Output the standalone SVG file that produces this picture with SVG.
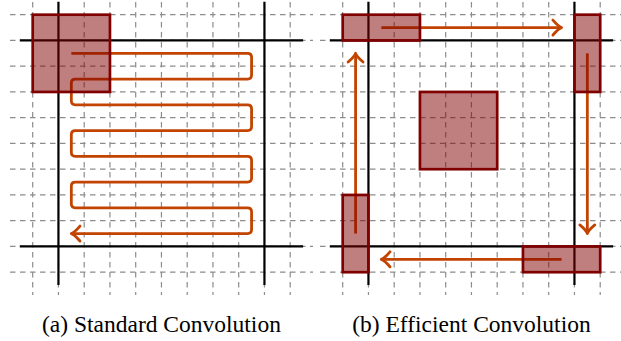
<svg xmlns="http://www.w3.org/2000/svg" width="621" height="341" viewBox="0 0 621 341">
<style>
.dash{stroke:#8c8c8c;stroke-width:1.2;stroke-dasharray:5.5 4.5;fill:none}
.axis{stroke:#000;stroke-width:2.2;fill:none}
.flow{stroke:#c24400;stroke-width:2.8;fill:none;marker-end:url(#ah)}
.box{fill:#800000;fill-opacity:0.5;stroke:#800000;stroke-width:2.7}
text{font-family:'Liberation Serif','DejaVu Serif','Noto Serif',serif;font-size:23.5px;fill:#000;text-anchor:middle}
</style>
<defs>
<marker id="ah" markerUnits="userSpaceOnUse" viewBox="-10 -10 14 20" refX="0" refY="0" markerWidth="14" markerHeight="20" orient="auto" overflow="visible">
<path d="M-7.5,-7.5 C-4.5,-4 -2,-1 1.2,0 C-2,1 -4.5,4 -7.5,7.5" fill="none" stroke="#c24400" stroke-width="2.8" stroke-linecap="round" stroke-linejoin="round"/>
</marker>
<g id="grid">
<path class="dash" d="M32.7,-8V295 M58.45,-8V295 M84.2,-8V295 M109.95,-8V295 M135.7,-8V295 M161.45,-8V295 M187.2,-8V295 M212.95,-8V295 M238.7,-8V295 M264.45,-8V295 M290.2,-8V295"/>
<path class="dash" d="M10,14.7H313 M10,40.45H313 M10,66.2H313 M10,91.95H313 M10,117.7H313 M10,143.45H313 M10,169.2H313 M10,194.95H313 M10,220.7H313 M10,246.45H313 M10,272.2H313"/>
<path class="axis" d="M19.8,40.45H303.1 M19.8,246.45H303.1 M58.45,1.8V285.1 M264.45,1.8V285.1"/>
</g>
</defs>
<g id="grid-a"><use href="#grid"/></g>
<g id="grid-b"><use href="#grid" transform="translate(310,0)"/></g>
<g id="connectors">
<path class="flow" d="M71.33,53.33 H247.58 Q251.58,53.33 251.58,57.33 V75.08 Q251.58,79.08 247.58,79.08 H75.33 Q71.33,79.08 71.33,83.08 V100.83 Q71.33,104.83 75.33,104.83 H247.58 Q251.58,104.83 251.58,108.83 V126.58 Q251.58,130.58 247.58,130.58 H75.33 Q71.33,130.58 71.33,134.58 V152.33 Q71.33,156.33 75.33,156.33 H247.58 Q251.58,156.33 251.58,160.33 V178.08 Q251.58,182.08 247.58,182.08 H75.33 Q71.33,182.08 71.33,186.08 V203.83 Q71.33,207.83 75.33,207.83 H247.58 Q251.58,207.83 251.58,211.83 V229.58 Q251.58,233.58 247.58,233.58 H72.5"/>
<path class="flow" d="M381.33,27.58 H560.4"/>
<path class="flow" d="M587.33,53.33 V232.4"/>
<path class="flow" d="M561.58,259.33 H382.5"/>
<path class="flow" d="M355.58,233.58 V54.5"/>
</g>
<g id="kernel-a"><rect class="box" x="32.7" y="14.7" width="77.25" height="77.25"/></g>
<g id="kernel-top"><rect class="box" x="342.7" y="14.7" width="77.25" height="25.75"/></g>
<g id="kernel-right"><rect class="box" x="574.45" y="14.7" width="25.75" height="77.25"/></g>
<g id="kernel-bottom"><rect class="box" x="522.95" y="246.45" width="77.25" height="25.75"/></g>
<g id="kernel-left"><rect class="box" x="342.7" y="194.95" width="25.75" height="77.25"/></g>
<g id="kernel-center"><rect class="box" x="419.95" y="91.95" width="77.25" height="77.25"/></g>
<g id="captions">
<text x="161.45" y="332">(a) Standard Convolution</text>
<text x="471.45" y="332">(b) Efficient Convolution</text>
</g>
</svg>
